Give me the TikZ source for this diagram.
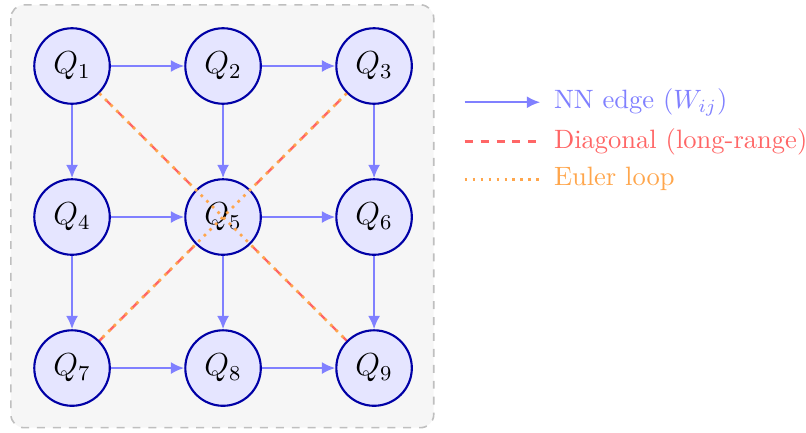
\documentclass[tikz,border=0pt]{standalone}
\usetikzlibrary{arrows.meta}
\begin{document}
\begin{tikzpicture}[
  qnode/.style={circle, draw=blue!65!black, fill=blue!10, line width=0.8pt, minimum size=1cm, inner sep=0pt, font=\large},
  nnedge/.style={-{Latex[length=5pt,width=4.5pt]}, draw=blue!50, line width=0.8pt},
  diagedge/.style={draw=red!60, dashed, line width=0.9pt},
  eulerline/.style={draw=orange!70, dotted, line width=1pt},
  legtext/.style={right, inner sep=0pt, xshift=5pt, font=\normalsize}
]
\useasboundingbox (-0.954,0.874) rectangle (9.72,-4.848);
\draw[gray!50, dashed, fill=gray!7, rounded corners=5pt, line width=0.6pt] (-0.81,0.81) rectangle (4.79,-4.79);

% red diagonals behind nodes
\coordinate (c1) at (0,0);
\coordinate (c3) at (4,0);
\coordinate (c7) at (0,-4);
\coordinate (c9) at (4,-4);
\draw[diagedge] (c1) -- (c9);
\draw[diagedge] (c3) -- (c7);

\node[qnode] (q1) at (0,0) {$Q_1$};
\node[qnode] (q2) at (2,0) {$Q_2$};
\node[qnode] (q3) at (4,0) {$Q_3$};
\node[qnode] (q4) at (0,-2) {$Q_4$};
\node[qnode] (q5) at (2,-2) {$Q_5$};
\node[qnode] (q6) at (4,-2) {$Q_6$};
\node[qnode] (q7) at (0,-4) {$Q_7$};
\node[qnode] (q8) at (2,-4) {$Q_8$};
\node[qnode] (q9) at (4,-4) {$Q_9$};

\draw[nnedge] (q1) -- (q2);
\draw[nnedge] (q2) -- (q3);
\draw[nnedge] (q4) -- (q5);
\draw[nnedge] (q5) -- (q6);
\draw[nnedge] (q7) -- (q8);
\draw[nnedge] (q8) -- (q9);
\draw[nnedge] (q1) -- (q4);
\draw[nnedge] (q4) -- (q7);
\draw[nnedge] (q2) -- (q5);
\draw[nnedge] (q5) -- (q8);
\draw[nnedge] (q3) -- (q6);
\draw[nnedge] (q6) -- (q9);

% euler loop on top
\draw[eulerline] (q1) -- (q9);
\draw[eulerline] (q3) -- (q7);

% legend
\coordinate (l1a) at (5.2,-0.48);
\coordinate (l1b) at (6.2,-0.48);
\coordinate (l2a) at (5.2,-1.0);
\coordinate (l2b) at (6.2,-1.0);
\coordinate (l3a) at (5.2,-1.5);
\coordinate (l3b) at (6.2,-1.5);
\draw[nnedge] (l1a) -- (l1b);
\node[legtext, text=blue!50] (t1) at (l1b) {NN edge ($W_{ij}$)};
\draw[diagedge] (l2a) -- (l2b);
\node[legtext, text=red!60] (t2) at (l2b) {Diagonal (long-range)};
\draw[eulerline] (l3a) -- (l3b);
\node[legtext, text=orange!70] (t3) at (l3b) {Euler loop};
\end{tikzpicture}
\end{document}
